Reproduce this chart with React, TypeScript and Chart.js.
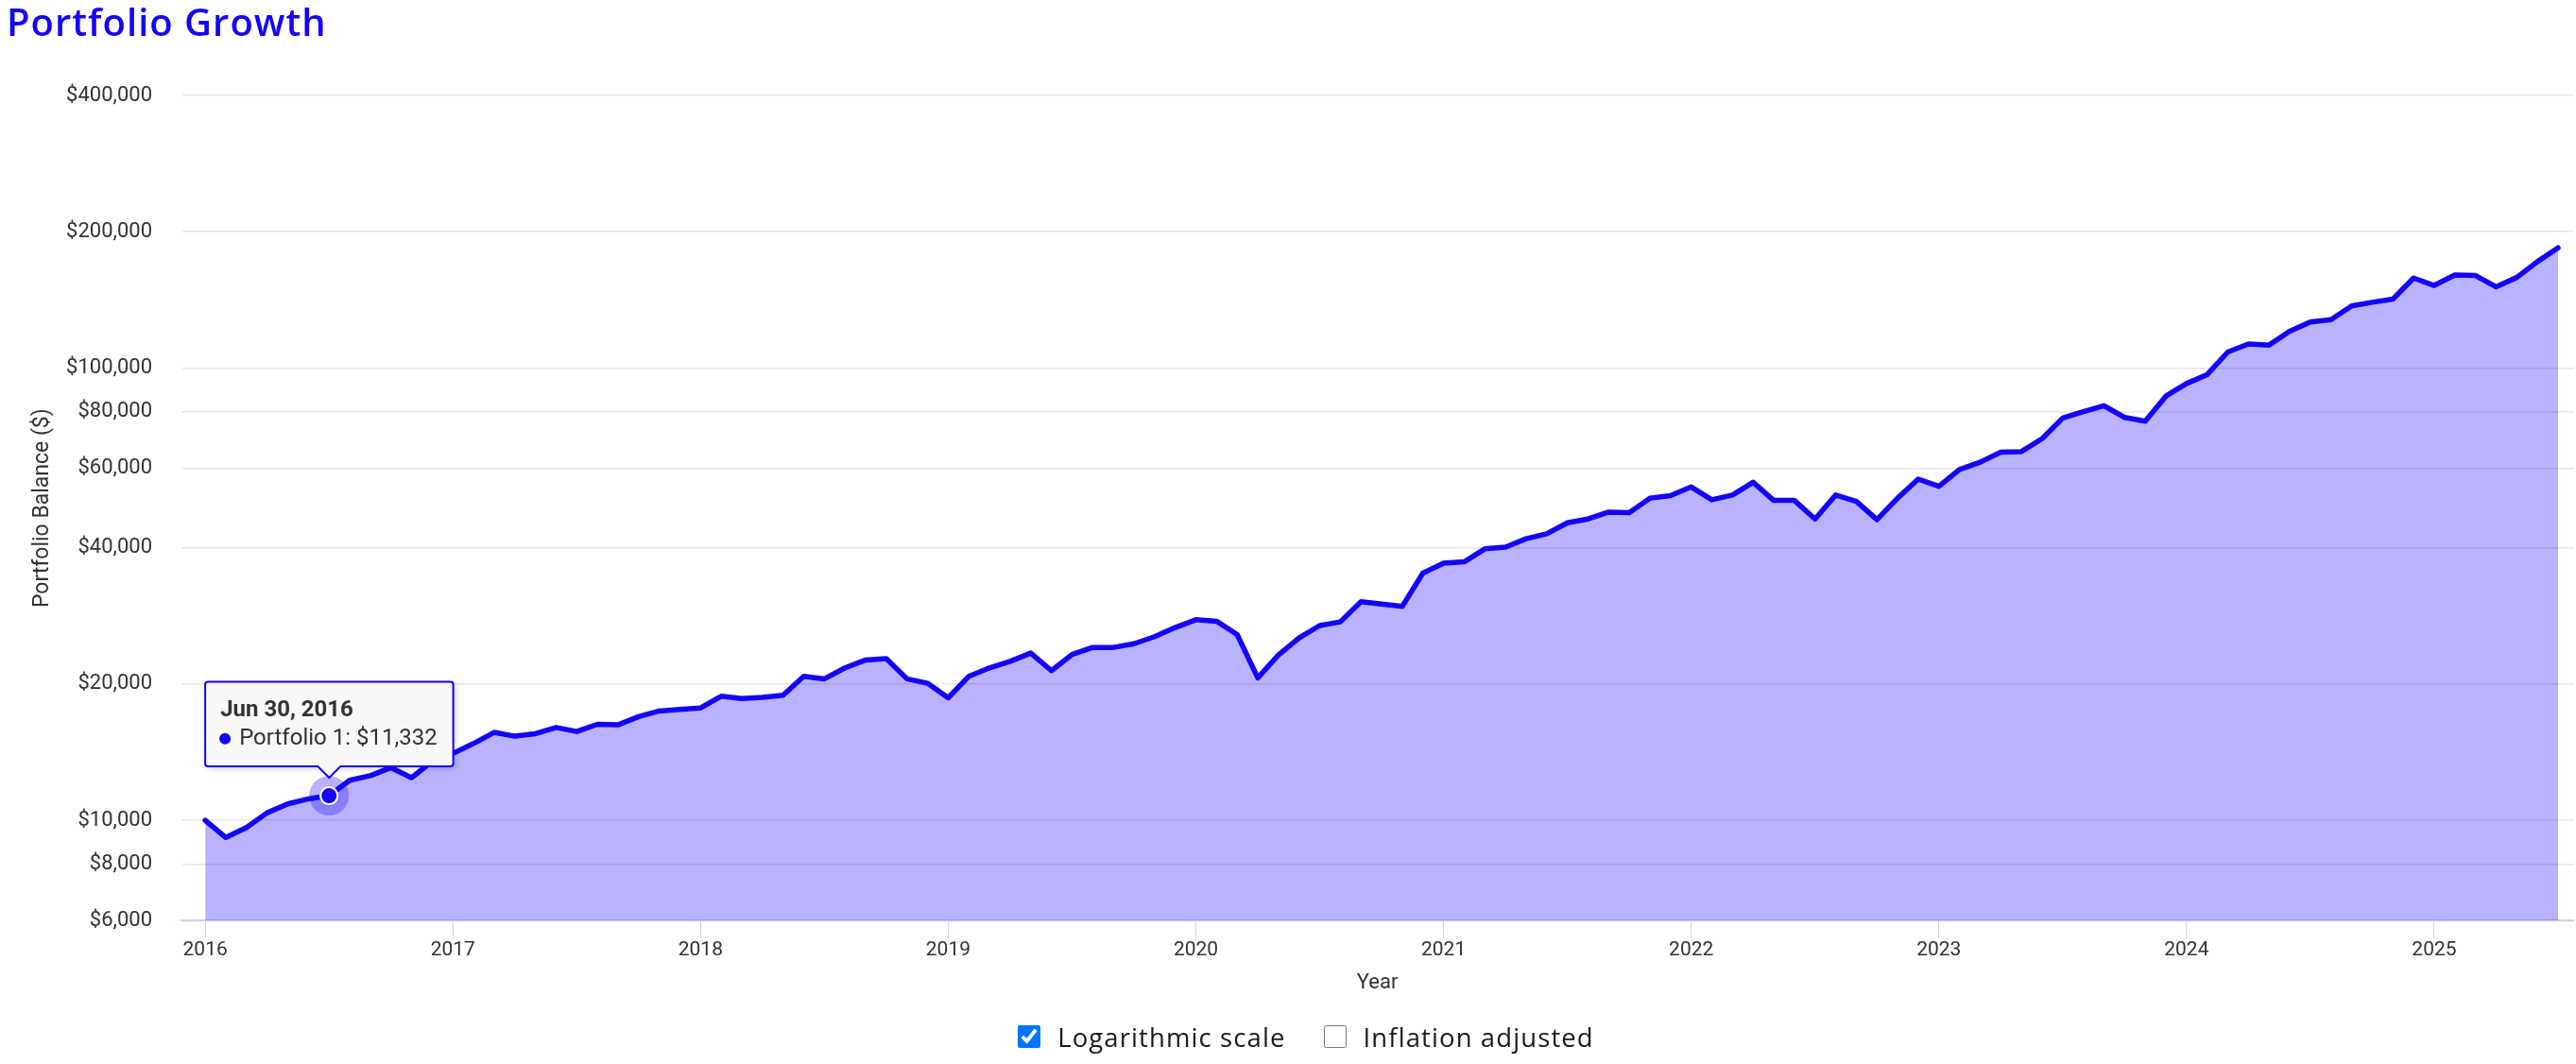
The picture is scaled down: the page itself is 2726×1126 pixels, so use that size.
import React, { useEffect, useRef } from 'react';
import { Chart, registerables } from 'chart.js';

Chart.register(...registerables);

// ---------- data ----------
const SERIES_NAME = 'Portfolio 1';
const START_YEAR = 2016; // point 0 = month end Dec 31, 2015, then one point per month end
const PORTFOLIO_VALUES = [
  10000, 9160, 9640, 10390, 10870, 11150, 11332, 12260, 12550, 13070, 12420, 13500,
  14050, 14780, 15640, 15340, 15540, 16040, 15710, 16300, 16250, 16950, 17440, 17580,
  17710, 18800, 18590, 18700, 18890, 20810, 20540, 21720, 22610, 22760, 20540, 20080,
  18650, 20810, 21720, 22450, 23420, 21410, 23260, 24100, 24100, 24560, 25460, 26670,
  27750, 27540, 25740, 20640, 23190, 25300, 26940, 27450, 30410, 30070, 29690, 35170,
  37000, 37250, 39800, 40150, 41900, 42990, 45460, 46340, 47990, 47860, 51530, 52180,
  54540, 51090, 52340, 55870, 50920, 50920, 46340, 52340, 50680, 46180, 51530, 56770,
  54720, 59620, 61870, 65120, 65300, 69740, 77470, 80000, 82500, 77700, 76200, 86600,
  92320, 96600, 108400, 112900, 112300, 120500, 126300, 127800, 137000, 139600, 141900, 157900,
  152100, 160400, 160000, 151000, 158400, 171700, 184200,
];
const X_TICKS = [2016, 2017, 2018, 2019, 2020, 2021, 2022, 2023, 2024, 2025];
const Y_TICKS = [6000, 8000, 10000, 20000, 40000, 60000, 80000, 100000, 200000, 400000];
const MONTH_NAMES = ['Jan', 'Feb', 'Mar', 'Apr', 'May', 'Jun', 'Jul', 'Aug', 'Sep', 'Oct', 'Nov', 'Dec'];
const ACTIVE_INDEX = 6;

// ---------- styles ----------
const BLUE = 'rgb(20,0,255)';
const FILL = 'rgba(20,0,255,0.30)';
const TEXT = '#333333';

function monthEnd(i: number) {
  return new Date(Date.UTC(START_YEAR, i, 0));
}
function fmtDate(d: Date) {
  return `${MONTH_NAMES[d.getUTCMonth()]} ${d.getUTCDate()}, ${d.getUTCFullYear()}`;
}

const POINTS = PORTFOLIO_VALUES.map((v, i) => ({ x: START_YEAR + i / 12, y: v }));

const haloPlugin = {
  id: 'halo',
  afterDatasetsDraw(chart: any) {
    const ctx = chart.ctx;
    chart.getActiveElements().forEach((a: any) => {
      const el = chart.getDatasetMeta(a.datasetIndex).data[a.index];
      ctx.save();
      ctx.beginPath();
      ctx.arc(el.x, el.y, 21, 0, Math.PI * 2);
      ctx.fillStyle = 'rgba(20,0,255,0.30)';
      ctx.fill();
      ctx.restore();
      el.draw(ctx, chart.chartArea);
    });
  },
};

const tooltipShadowPlugin = {
  id: 'ttshadow',
  beforeTooltipDraw(chart: any, args: any) {
    const tt = args.tooltip;
    if (!tt || !tt.opacity) return;
    const ctx = chart.ctx;
    ctx.save();
    ctx.shadowColor = 'rgba(0,0,0,0.22)';
    ctx.shadowBlur = 6;
    ctx.shadowOffsetX = 2;
    ctx.shadowOffsetY = 2;
    ctx.fillStyle = '#f7f7f7';
    ctx.beginPath();
    (ctx as any).roundRect(tt.x, tt.y, tt.width, tt.height, 3);
    ctx.fill();
    ctx.restore();
  },
};

function PortfolioChart() {
  const ref = useRef<HTMLCanvasElement>(null);
  useEffect(() => {
    if (!ref.current) return;
    const font = { family: 'Roboto', size: 22 };
    const chart = new Chart(ref.current, {
      type: 'line',
      data: {
        datasets: [
          {
            label: SERIES_NAME,
            data: POINTS,
            borderColor: BLUE,
            backgroundColor: FILL,
            fill: 'start',
            borderWidth: 5.5,
            tension: 0,
            borderJoinStyle: 'round',
            borderCapStyle: 'round',
            pointRadius: 0,
            pointHoverRadius: 9,
            pointHoverBorderWidth: 2,
            pointHoverBorderColor: '#ffffff',
            pointHoverBackgroundColor: BLUE,
          } as any,
        ],
      },
      options: {
        responsive: false,
        animation: false,
        events: [],
        layout: { padding: { top: 101, bottom: 61.7, left: 0, right: 0 } },
        plugins: {
          legend: { display: false },
          tooltip: {
            enabled: true,
            backgroundColor: 'rgba(247,247,247,0.93)',
            borderColor: BLUE,
            borderWidth: 2,
            cornerRadius: 3,
            titleColor: TEXT,
            titleFont: { family: 'Roboto', size: 24, weight: 'bold' },
            bodyColor: TEXT,
            bodyFont: { family: 'Roboto', size: 24 },
            padding: { top: 16, bottom: 15, left: 16, right: 17 },
            titleMarginBottom: 1,
            caretSize: 12,
            caretPadding: 19,
            yAlign: 'bottom',
            xAlign: 'center',
            displayColors: true,
            usePointStyle: true,
            boxWidth: 10,
            boxHeight: 10,
            boxPadding: 8,
            callbacks: {
              title: (items: any[]) => fmtDate(monthEnd(items[0].dataIndex)),
              label: (item: any) =>
                `${item.dataset.label}: $${Math.round(item.parsed.y).toLocaleString('en-US')}`,
              labelColor: () => ({ borderColor: BLUE, backgroundColor: BLUE }),
              labelPointStyle: () => ({ pointStyle: 'circle', rotation: 0 }),
            },
          } as any,
        },
        scales: {
          x: {
            type: 'linear',
            min: 2015.904,
            max: 2025.562,
            afterBuildTicks: (s: any) => {
              s.ticks = X_TICKS.map((v) => ({ value: v }));
            },
            afterFit: (s: any) => {
              s.height = 90;
            },
            grid: { drawOnChartArea: false, drawTicks: true, tickLength: 19, color: '#ccd6eb', lineWidth: 1 },
            border: { display: true, color: '#ccd6eb', width: 2 },
            ticks: {
              color: TEXT,
              font: { family: 'Roboto', size: 21 },
              padding: 0,
              maxRotation: 0,
              autoSkip: false,
              callback: (v: any) => String(v),
            },
            title: {
              display: true,
              text: 'Year',
              color: TEXT,
              font: { family: 'Roboto', size: 22 },
              padding: { top: 4, bottom: 11 },
            },
          },
          y: {
            type: 'logarithmic',
            min: 6000,
            max: 400000,
            afterBuildTicks: (s: any) => {
              s.ticks = Y_TICKS.map((v) => ({ value: v }));
            },
            afterFit: (s: any) => {
              s.width = 192;
            },
            grid: { color: '#e6e6e6', lineWidth: 1.5, drawTicks: false },
            border: { display: false },
            ticks: {
              color: TEXT,
              font,
              padding: 31,
              callback: (v: any) => '$' + Number(v).toLocaleString('en-US'),
            },
            title: {
              display: true,
              text: 'Portfolio Balance ($)',
              color: TEXT,
              font: { family: 'Roboto', size: 23 },
              padding: { top: 31, bottom: 4 },
            },
          },
        },
      } as any,
      plugins: [haloPlugin, tooltipShadowPlugin],
    });

    const el = chart.getDatasetMeta(0).data[ACTIVE_INDEX] as any;
    chart.setActiveElements([{ datasetIndex: 0, index: ACTIVE_INDEX }]);
    chart.tooltip!.setActiveElements([{ datasetIndex: 0, index: ACTIVE_INDEX }], { x: el.x, y: el.y });
    chart.update();

    return () => chart.destroy();
  }, []);
  return (
    <canvas
      ref={ref}
      width={2726}
      height={1126}
      style={{ position: 'absolute', left: 0, top: 0, width: 2726, height: 1126 }}
    />
  );
}

export default function App() {
  return (
    <div
      style={{
        position: 'absolute',
        left: 0,
        top: 0,
        width: 2726,
        height: 1126,
        overflow: 'hidden',
        background: '#ffffff',
      }}
    >
      <PortfolioChart />
      <div
        style={{
          position: 'absolute',
          left: 7,
          top: 3,
          fontFamily: '"Open Sans", sans-serif',
          fontWeight: 600,
          fontSize: 40,
          lineHeight: '40px',
          letterSpacing: 1,
          color: BLUE,
          whiteSpace: 'nowrap',
        }}
      >
        Portfolio Growth
      </div>
      <div
        style={{
          position: 'absolute',
          left: 0,
          top: 1079,
          width: 2726,
          height: 36,
          display: 'flex',
          justifyContent: 'center',
          alignItems: 'center',
          paddingLeft: 38,
          boxSizing: 'border-box',
          fontFamily: '"Open Sans", sans-serif',
          fontSize: 27.5,
          letterSpacing: 1.1,
          color: '#1a1a1a',
        }}
      >
        <label style={{ display: 'flex', alignItems: 'center' }}>
          <input type="checkbox" defaultChecked style={{ width: 24, height: 24, margin: 0 }} />
          <span style={{ marginLeft: 18 }}>Logarithmic scale</span>
        </label>
        <label style={{ display: 'flex', alignItems: 'center', marginLeft: 40 }}>
          <input type="checkbox" style={{ width: 24, height: 24, margin: 0 }} />
          <span style={{ marginLeft: 18 }}>Inflation adjusted</span>
        </label>
      </div>
    </div>
  );
}
